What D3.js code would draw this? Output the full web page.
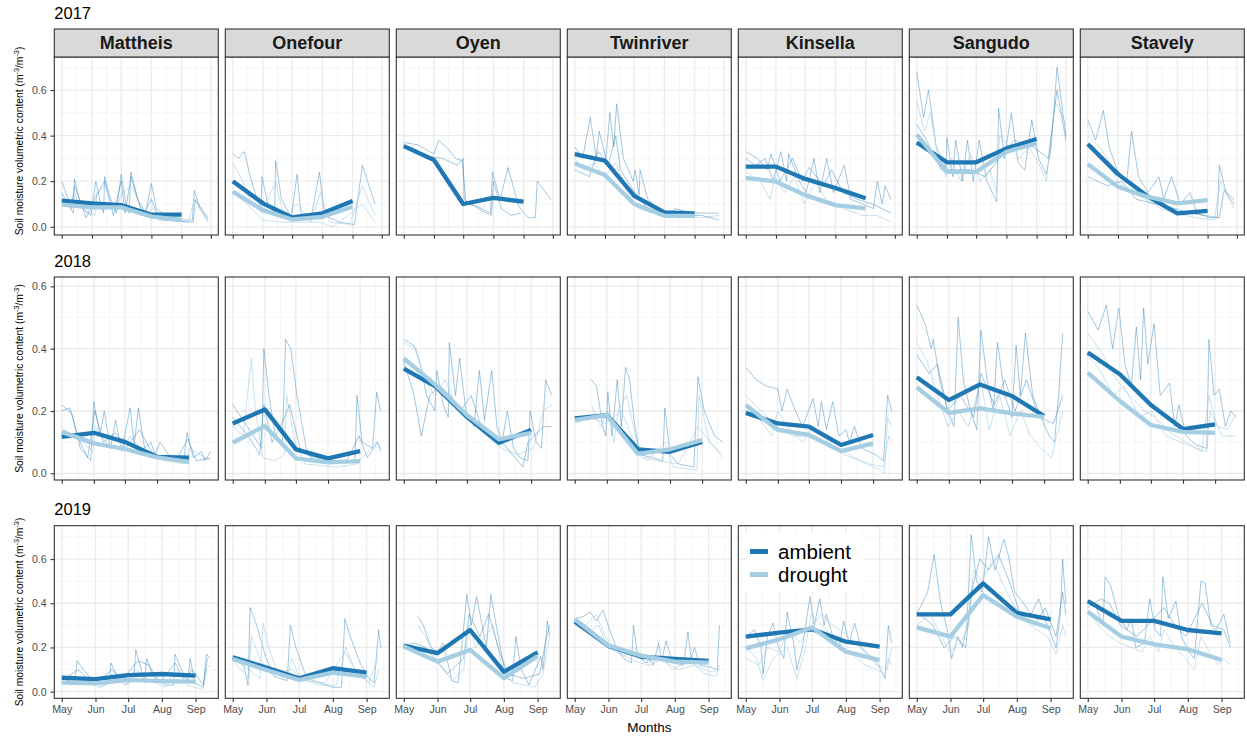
<!DOCTYPE html>
<html>
<head>
<meta charset="utf-8">
<script src="https://cdn.jsdelivr.net/npm/d3@7"></script>
<style>
  body { margin: 0; background: #ffffff; }
  text { font-family: "Liberation Sans", Arial, Helvetica, sans-serif; }
</style>
</head>
<body>
<svg id="chart" width="1247" height="738"></svg>
<script>
// ---------------- data ----------------
const years = [2017, 2018, 2019];
const sites = ["Mattheis", "Onefour", "Oyen", "Twinriver", "Kinsella", "Sangudo", "Stavely"];
const treatments = ["ambient", "drought"];
const meanMonths = ["May", "Jun", "Jul", "Aug", "Sep"];   // monthly means plotted on the 1st
const yMajor = [0, 0.2, 0.4, 0.6];
const yMinor = [0.1, 0.3, 0.5, 0.7];
const yLimits = [[-0.036, 0.745], [-0.0215, 0.63], [-0.03, 0.751]];

// monthly mean soil moisture, one row per site (May..Sep)
const ambient2017 = [
  [0.115, 0.103, 0.095, 0.053, 0.053],
  [0.200, 0.103, 0.041, 0.059, 0.113],
  [0.354, 0.293, 0.100, 0.127, 0.110],
  [0.319, 0.290, 0.136, 0.063, 0.059],
  [0.264, 0.264, 0.210, 0.170, 0.125],
  [0.370, 0.283, 0.283, 0.344, 0.385],
  [0.363, 0.231, 0.135, 0.059, 0.070]
];
const drought2017 = [
  [0.097, 0.085, 0.085, 0.045, 0.030],
  [0.154, 0.073, 0.032, 0.044, 0.088],
  null,
  [0.278, 0.227, 0.100, 0.048, 0.048],
  [0.215, 0.198, 0.139, 0.095, 0.081],
  [0.405, 0.241, 0.241, 0.329, 0.366],
  [0.275, 0.176, 0.132, 0.103, 0.117]
];
const ambient2018 = [
  [0.117, 0.130, 0.101, 0.053, 0.050],
  [0.160, 0.205, 0.077, 0.048, 0.071],
  [0.336, 0.278, 0.181, 0.098, 0.139],
  [0.176, 0.187, 0.077, 0.069, 0.101],
  [0.194, 0.160, 0.150, 0.091, 0.123],
  [0.308, 0.235, 0.285, 0.248, 0.184],
  [0.388, 0.318, 0.219, 0.142, 0.157]
];
const drought2018 = [
  [0.133, 0.096, 0.078, 0.051, 0.037],
  [0.098, 0.152, 0.048, 0.035, 0.039],
  [0.369, 0.283, 0.187, 0.109, 0.130],
  [0.171, 0.187, 0.062, 0.077, 0.107],
  [0.219, 0.139, 0.123, 0.071, 0.096],
  [0.276, 0.194, 0.208, 0.192, 0.181],
  [0.323, 0.232, 0.155, 0.133, 0.130]
];
const ambient2019 = [
  [0.063, 0.057, 0.075, 0.080, 0.073],
  [0.156, 0.109, 0.061, 0.106, 0.086],
  [0.208, 0.174, 0.279, 0.090, 0.178],
  [0.317, 0.207, 0.158, 0.148, 0.139],
  [0.249, 0.267, 0.282, 0.226, 0.204],
  [0.350, 0.350, 0.490, 0.357, 0.327],
  [0.410, 0.320, 0.320, 0.279, 0.264]
];
const drought2019 = [
  [0.041, 0.038, 0.053, 0.048, 0.045],
  [0.148, 0.098, 0.053, 0.086, 0.068],
  [0.204, 0.136, 0.189, 0.061, 0.161],
  [0.328, 0.209, 0.163, 0.136, 0.131],
  [0.196, 0.237, 0.290, 0.181, 0.143],
  [0.291, 0.249, 0.437, 0.339, 0.287],
  [0.362, 0.249, 0.214, 0.192, 0.143]
];

// individual sensor records: [site, treatment, [[days since 1 May, value], ...]]
const sensors2017 = [
  ["Mattheis", "ambient", [[0,0.15],[6,0.1],[12,0.06],[13,0.21],[18,0.12],[24,0.07],[30,0.05],[35,0.2],[40,0.1],[43,0.06],[44,0.22],[50,0.12],[56,0.06],[61,0.23],[66,0.1],[69,0.06],[71,0.24],[78,0.12],[86,0.06],[92,0.19],[97,0.08],[110,0.04],[125,0.03],[134,0.03],[136,0.16],[142,0.08],[150,0.03]]],
  ["Mattheis", "drought", [[0,0.12],[8,0.09],[13,0.15],[20,0.08],[34,0.05],[36,0.15],[45,0.18],[55,0.07],[62,0.15],[72,0.18],[85,0.05],[93,0.08],[110,0.03],[130,0.02],[136,0.12],[150,0.02]]],
  ["Mattheis", "ambient", [[0,0.2],[10,0.08],[13,0.18],[25,0.04],[36,0.14],[44,0.2],[53,0.05],[61,0.2],[65,0.06],[71,0.22],[83,0.05],[92,0.12],[100,0.03],[135,0.02],[137,0.12],[150,0.04]]],
  ["Onefour", "ambient", [[0,0.32],[6,0.3],[12,0.33],[18,0.22],[25,0.12],[29,0.08],[30,0.22],[36,0.1],[43,0.06],[44,0.29],[50,0.12],[60,0.04],[66,0.23],[70,0.06],[80,0.03],[89,0.24],[94,0.05],[110,0.02],[125,0.01],[133,0.27],[146,0.1]]],
  ["Onefour", "drought", [[0,0.28],[8,0.22],[20,0.1],[30,0.06],[44,0.2],[52,0.05],[66,0.1],[80,0.02],[90,0.15],[100,0.02],[120,0.01],[133,0.18],[146,0.05]]],
  ["Onefour", "drought", [[0,0.15],[15,0.1],[30,0.03],[50,0.02],[90,0.02],[103,0.0],[133,0.1],[146,0.02]]],
  ["Oyen", "ambient", [[0,0.37],[14,0.36],[31,0.32],[36,0.38],[46,0.34],[53,0.3],[60,0.29],[64,0.1],[75,0.09],[89,0.06],[91,0.24],[99,0.12],[107,0.26],[118,0.09],[128,0.04],[135,0.04],[137,0.2],[151,0.12]]],
  ["Oyen", "ambient", [[0,0.36],[12,0.34],[25,0.31],[40,0.3],[55,0.27],[61,0.3],[62,0.12],[80,0.07],[90,0.05],[92,0.2],[100,0.08],[110,0.05],[120,0.06]]],
  ["Twinriver", "ambient", [[0,0.35],[8,0.3],[16,0.48],[22,0.3],[25,0.42],[32,0.3],[36,0.5],[40,0.35],[43,0.54],[50,0.3],[60,0.2],[62,0.25],[66,0.14],[67,0.25],[75,0.12],[85,0.08],[100,0.06],[103,0.08],[120,0.06],[148,0.06]]],
  ["Twinriver", "drought", [[0,0.3],[10,0.25],[20,0.28],[30,0.22],[42,0.28],[55,0.14],[65,0.08],[80,0.06],[100,0.05],[130,0.04],[148,0.05]]],
  ["Twinriver", "ambient", [[0,0.25],[15,0.22],[24,0.33],[35,0.28],[42,0.4],[47,0.25],[60,0.16],[75,0.08],[100,0.05],[130,0.05],[148,0.03]]],
  ["Kinsella", "ambient", [[0,0.3],[10,0.27],[20,0.3],[28,0.2],[36,0.33],[42,0.2],[44,0.32],[55,0.2],[62,0.15],[70,0.3],[76,0.15],[83,0.3],[90,0.15],[101,0.27],[108,0.12],[120,0.1],[131,0.08],[135,0.2],[140,0.1],[143,0.18],[149,0.12]]],
  ["Kinsella", "drought", [[0,0.24],[15,0.2],[25,0.12],[30,0.22],[40,0.15],[50,0.22],[60,0.1],[72,0.2],[85,0.1],[100,0.08],[120,0.05],[135,0.05],[149,0.02]]],
  ["Kinsella", "ambient", [[0,0.33],[12,0.3],[22,0.25],[26,0.32],[35,0.2],[48,0.3],[58,0.2],[65,0.26],[80,0.18],[88,0.25],[100,0.15],[115,0.12],[130,0.1],[149,0.06]]],
  ["Sangudo", "ambient", [[0,0.68],[7,0.48],[12,0.6],[20,0.35],[30,0.26],[31,0.39],[37,0.22],[40,0.38],[47,0.2],[52,0.38],[58,0.2],[64,0.38],[72,0.2],[82,0.11],[84,0.52],[90,0.3],[97,0.5],[104,0.28],[111,0.25],[118,0.47],[125,0.3],[133,0.23],[138,0.35],[144,0.7],[153,0.4]]],
  ["Sangudo", "drought", [[0,0.55],[8,0.42],[14,0.5],[22,0.3],[30,0.22],[36,0.3],[45,0.2],[55,0.32],[65,0.2],[75,0.25],[82,0.15],[85,0.4],[95,0.35],[105,0.3],[115,0.35],[125,0.28],[133,0.2],[142,0.55],[153,0.45]]],
  ["Sangudo", "ambient", [[0,0.45],[10,0.38],[25,0.25],[40,0.25],[55,0.25],[70,0.22],[85,0.3],[100,0.38],[120,0.35],[135,0.3],[144,0.6],[153,0.38]]],
  ["Stavely", "ambient", [[0,0.47],[8,0.38],[16,0.51],[22,0.35],[30,0.25],[40,0.2],[45,0.42],[52,0.22],[62,0.15],[73,0.22],[78,0.12],[86,0.22],[95,0.1],[105,0.15],[112,0.06],[125,0.04],[133,0.04],[135,0.27],[142,0.15],[150,0.1]]],
  ["Stavely", "drought", [[0,0.4],[12,0.35],[20,0.3],[30,0.2],[45,0.15],[60,0.12],[75,0.08],[90,0.06],[110,0.04],[130,0.03],[136,0.2],[150,0.08]]],
  ["Stavely", "ambient", [[0,0.22],[20,0.18],[35,0.2],[50,0.12],[70,0.1],[90,0.08],[105,0.06],[120,0.05],[135,0.04],[140,0.16],[150,0.12]]]
];
const sensors2018 = [
  ["Mattheis", "ambient", [[0,0.22],[10,0.19],[18,0.08],[28,0.04],[31,0.23],[37,0.12],[41,0.2],[47,0.08],[52,0.17],[58,0.07],[66,0.21],[70,0.09],[74,0.21],[80,0.08],[86,0.1],[90,0.06],[95,0.1],[105,0.05],[118,0.04],[121,0.13],[127,0.05],[135,0.07],[138,0.04],[144,0.07]]],
  ["Mattheis", "drought", [[0,0.15],[10,0.12],[20,0.1],[30,0.07],[32,0.15],[45,0.09],[60,0.08],[66,0.12],[80,0.06],[100,0.04],[121,0.03],[123,0.08],[144,0.04]]],
  ["Mattheis", "ambient", [[0,0.2],[8,0.21],[15,0.12],[25,0.05],[32,0.2],[40,0.1],[52,0.13],[62,0.08],[75,0.14],[90,0.05],[110,0.04],[122,0.11],[130,0.04],[144,0.05]]],
  ["Onefour", "ambient", [[0,0.22],[10,0.17],[20,0.12],[28,0.08],[30,0.4],[35,0.25],[41,0.12],[48,0.1],[51,0.43],[56,0.4],[62,0.25],[72,0.06],[80,0.05],[100,0.04],[118,0.04],[120,0.25],[125,0.1],[135,0.08],[139,0.26],[143,0.2]]],
  ["Onefour", "drought", [[0,0.15],[10,0.12],[18,0.37],[22,0.2],[29,0.05],[40,0.04],[50,0.06],[52,0.25],[60,0.1],[70,0.03],[100,0.02],[120,0.03],[139,0.1],[143,0.08]]],
  ["Onefour", "ambient", [[0,0.18],[15,0.12],[26,0.06],[30,0.22],[38,0.1],[46,0.15],[55,0.22],[65,0.08],[80,0.04],[110,0.04],[122,0.12],[130,0.05],[140,0.1],[143,0.07]]],
  ["Oyen", "ambient", [[0,0.43],[10,0.41],[16,0.35],[22,0.25],[30,0.2],[32,0.33],[38,0.22],[43,0.18],[44,0.42],[50,0.25],[54,0.37],[60,0.2],[68,0.15],[73,0.33],[78,0.17],[85,0.33],[90,0.15],[95,0.1],[100,0.2],[106,0.08],[112,0.05],[120,0.04],[122,0.2],[128,0.1],[133,0.08],[137,0.3],[143,0.25]]],
  ["Oyen", "drought", [[0,0.42],[12,0.4],[20,0.3],[30,0.25],[40,0.3],[50,0.22],[60,0.18],[70,0.15],[80,0.12],[95,0.08],[110,0.06],[125,0.08],[135,0.2],[143,0.22]]],
  ["Oyen", "ambient", [[0,0.36],[10,0.25],[17,0.12],[25,0.25],[35,0.28],[45,0.25],[55,0.2],[65,0.25],[75,0.15],[85,0.12],[95,0.1],[105,0.06],[115,0.02],[120,0.1],[135,0.15],[143,0.15]]],
  ["Twinriver", "ambient", [[16,0.3],[21,0.28],[27,0.15],[30,0.12],[32,0.26],[36,0.12],[41,0.3],[45,0.15],[49,0.34],[53,0.3],[58,0.15],[63,0.06],[75,0.05],[85,0.04],[87,0.21],[92,0.06],[100,0.03],[115,0.02],[119,0.31],[125,0.2],[135,0.12],[143,0.1]]],
  ["Twinriver", "drought", [[16,0.22],[25,0.15],[32,0.2],[38,0.1],[42,0.2],[50,0.25],[60,0.1],[70,0.04],[87,0.1],[95,0.02],[118,0.01],[120,0.25],[130,0.1],[143,0.06]]],
  ["Twinriver", "drought", [[0,0.16],[15,0.18],[30,0.16],[45,0.2],[55,0.12],[65,0.05],[80,0.04],[100,0.03],[119,0.15],[143,0.05]]],
  ["Kinsella", "ambient", [[0,0.34],[10,0.3],[20,0.28],[31,0.27],[35,0.2],[40,0.27],[48,0.2],[55,0.15],[65,0.24],[70,0.15],[73,0.23],[78,0.14],[84,0.23],[90,0.12],[97,0.14],[100,0.1],[105,0.15],[112,0.08],[125,0.06],[133,0.04],[137,0.25],[141,0.2]]],
  ["Kinsella", "drought", [[0,0.2],[12,0.18],[25,0.12],[31,0.2],[40,0.15],[55,0.1],[65,0.15],[80,0.1],[95,0.06],[110,0.04],[130,0.01],[134,0.0],[137,0.18],[141,0.15]]],
  ["Kinsella", "drought", [[0,0.25],[15,0.2],[30,0.15],[45,0.12],[60,0.12],[75,0.1],[90,0.08],[105,0.05],[120,0.03],[133,0.02],[138,0.12],[141,0.1]]],
  ["Sangudo", "ambient", [[0,0.54],[8,0.48],[14,0.4],[16,0.43],[22,0.3],[30,0.2],[36,0.15],[40,0.5],[45,0.3],[52,0.2],[58,0.14],[62,0.46],[68,0.3],[74,0.2],[78,0.42],[85,0.25],[92,0.18],[96,0.41],[100,0.25],[105,0.45],[112,0.25],[120,0.18],[128,0.12],[133,0.1],[137,0.25],[141,0.45]]],
  ["Sangudo", "drought", [[0,0.42],[10,0.36],[20,0.25],[30,0.15],[40,0.2],[50,0.15],[62,0.3],[70,0.14],[80,0.25],[90,0.12],[100,0.2],[110,0.12],[120,0.08],[130,0.05],[141,0.2]]],
  ["Sangudo", "ambient", [[0,0.38],[12,0.32],[20,0.35],[30,0.2],[42,0.25],[55,0.18],[62,0.32],[75,0.22],[85,0.3],[95,0.2],[106,0.3],[118,0.18],[132,0.16],[141,0.25]]],
  ["Stavely", "ambient", [[0,0.52],[10,0.46],[18,0.54],[24,0.4],[30,0.53],[36,0.35],[42,0.28],[47,0.47],[51,0.3],[54,0.53],[58,0.35],[64,0.48],[70,0.25],[79,0.29],[84,0.15],[88,0.22],[95,0.12],[105,0.09],[115,0.08],[117,0.43],[122,0.25],[127,0.27],[133,0.15],[138,0.2],[143,0.18]]],
  ["Stavely", "drought", [[0,0.45],[15,0.38],[28,0.3],[40,0.25],[55,0.2],[65,0.18],[80,0.13],[95,0.1],[110,0.07],[117,0.25],[125,0.15],[135,0.14],[143,0.19]]],
  ["Stavely", "drought", [[0,0.38],[12,0.33],[25,0.25],[35,0.28],[50,0.18],[62,0.2],[75,0.12],[90,0.1],[105,0.08],[115,0.07],[118,0.2],[130,0.12],[143,0.12]]]
];
const sensors2019 = [
  ["Mattheis", "ambient", [[0,0.06],[12,0.04],[14,0.14],[20,0.1],[28,0.05],[35,0.02],[44,0.04],[45,0.13],[52,0.06],[58,0.03],[66,0.05],[68,0.19],[72,0.12],[76,0.04],[78,0.15],[84,0.07],[95,0.03],[103,0.03],[104,0.17],[110,0.1],[116,0.05],[118,0.15],[122,0.04],[130,0.02],[133,0.17],[136,0.15]]],
  ["Mattheis", "drought", [[0,0.04],[14,0.05],[25,0.04],[40,0.03],[45,0.08],[60,0.04],[68,0.1],[80,0.05],[95,0.02],[105,0.1],[115,0.03],[130,0.01],[133,0.1],[136,0.12]]],
  ["Mattheis", "ambient", [[0,0.05],[15,0.1],[30,0.03],[46,0.1],[55,0.05],[70,0.14],[80,0.12],[90,0.04],[104,0.13],[112,0.06],[120,0.1],[130,0.03],[134,0.15]]],
  ["Onefour", "ambient", [[0,0.16],[10,0.12],[14,0.03],[16,0.38],[22,0.3],[30,0.16],[38,0.07],[50,0.05],[53,0.3],[58,0.2],[68,0.06],[80,0.04],[92,0.02],[100,0.02],[103,0.33],[108,0.25],[117,0.13],[125,0.06],[130,0.04],[134,0.28],[136,0.2]]],
  ["Onefour", "drought", [[0,0.15],[15,0.1],[25,0.06],[28,0.31],[33,0.2],[40,0.1],[50,0.06],[54,0.15],[62,0.06],[80,0.03],[95,0.03],[104,0.2],[112,0.1],[125,0.04],[134,0.16]]],
  ["Onefour", "drought", [[0,0.14],[15,0.06],[17,0.25],[25,0.15],[35,0.08],[55,0.1],[65,0.05],[85,0.04],[103,0.18],[115,0.08],[130,0.02],[134,0.1]]],
  ["Oyen", "ambient", [[13,0.34],[18,0.3],[25,0.2],[31,0.18],[36,0.22],[42,0.1],[44,0.05],[50,0.04],[58,0.44],[62,0.3],[67,0.43],[72,0.3],[76,0.2],[80,0.44],[85,0.3],[94,0.06],[100,0.05],[103,0.25],[108,0.1],[115,0.03],[126,0.16],[128,0.1],[132,0.32],[134,0.25]]],
  ["Oyen", "drought", [[13,0.3],[20,0.25],[30,0.15],[40,0.08],[45,0.05],[55,0.1],[60,0.3],[66,0.2],[75,0.25],[82,0.3],[90,0.12],[100,0.04],[110,0.03],[120,0.02],[128,0.08],[132,0.2],[134,0.25]]],
  ["Oyen", "ambient", [[0,0.21],[10,0.22],[20,0.2],[30,0.14],[40,0.08],[55,0.15],[60,0.35],[70,0.25],[78,0.35],[88,0.18],[96,0.08],[110,0.06],[125,0.08],[130,0.22],[134,0.3]]],
  ["Twinriver", "ambient", [[0,0.33],[8,0.34],[14,0.36],[20,0.32],[26,0.37],[32,0.28],[39,0.19],[45,0.15],[52,0.13],[54,0.3],[58,0.16],[66,0.13],[68,0.15],[72,0.12],[77,0.22],[80,0.14],[84,0.23],[90,0.13],[100,0.12],[104,0.27],[107,0.15],[110,0.2],[115,0.12],[125,0.11],[131,0.1],[133,0.3]]],
  ["Twinriver", "drought", [[0,0.33],[10,0.3],[20,0.35],[28,0.25],[40,0.18],[50,0.15],[60,0.13],[70,0.12],[80,0.15],[90,0.1],[105,0.14],[120,0.08],[130,0.07],[133,0.12]]],
  ["Twinriver", "drought", [[0,0.3],[12,0.27],[22,0.3],[30,0.2],[45,0.16],[55,0.2],[65,0.13],[78,0.15],[95,0.1],[110,0.12],[125,0.09],[133,0.1]]],
  ["Kinsella", "ambient", [[0,0.25],[8,0.28],[14,0.2],[16,0.08],[20,0.25],[25,0.31],[30,0.2],[35,0.15],[38,0.36],[44,0.22],[47,0.1],[52,0.2],[59,0.43],[63,0.3],[68,0.42],[72,0.3],[74,0.35],[80,0.25],[86,0.2],[90,0.32],[95,0.22],[100,0.31],[106,0.2],[115,0.16],[122,0.12],[128,0.06],[131,0.3],[134,0.22]]],
  ["Kinsella", "drought", [[0,0.2],[10,0.15],[16,0.05],[25,0.15],[38,0.2],[47,0.06],[55,0.2],[60,0.35],[70,0.3],[80,0.25],[90,0.2],[100,0.16],[110,0.12],[120,0.1],[128,0.08],[131,0.15],[134,0.12]]],
  ["Kinsella", "drought", [[0,0.15],[12,0.12],[20,0.2],[30,0.18],[40,0.28],[50,0.22],[60,0.3],[70,0.35],[80,0.3],[95,0.25],[105,0.2],[120,0.12],[130,0.1],[134,0.2]]],
  ["Sangudo", "ambient", [[0,0.35],[10,0.45],[16,0.62],[22,0.4],[28,0.28],[32,0.15],[38,0.25],[42,0.2],[46,0.3],[50,0.71],[55,0.5],[60,0.45],[66,0.7],[72,0.55],[80,0.69],[84,0.62],[90,0.45],[98,0.4],[105,0.35],[112,0.42],[120,0.3],[128,0.2],[132,0.35],[134,0.6],[137,0.4]]],
  ["Sangudo", "drought", [[0,0.3],[12,0.35],[20,0.28],[30,0.18],[40,0.22],[48,0.3],[52,0.55],[60,0.5],[70,0.6],[78,0.5],[88,0.4],[100,0.32],[110,0.28],[120,0.25],[128,0.17],[134,0.3],[137,0.25]]],
  ["Sangudo", "ambient", [[0,0.36],[15,0.3],[25,0.2],[35,0.25],[45,0.2],[50,0.45],[58,0.6],[66,0.55],[75,0.62],[85,0.5],[95,0.35],[108,0.3],[118,0.38],[128,0.25],[134,0.45],[137,0.35]]],
  ["Stavely", "ambient", [[0,0.41],[8,0.38],[14,0.3],[16,0.52],[21,0.48],[28,0.35],[36,0.28],[40,0.33],[44,0.2],[52,0.22],[57,0.42],[62,0.28],[67,0.25],[69,0.52],[74,0.33],[81,0.41],[86,0.25],[93,0.18],[98,0.15],[104,0.5],[108,0.49],[113,0.3],[118,0.28],[125,0.35],[131,0.22]]],
  ["Stavely", "drought", [[0,0.36],[10,0.3],[20,0.25],[30,0.22],[40,0.2],[50,0.18],[57,0.25],[65,0.18],[70,0.28],[80,0.2],[90,0.15],[98,0.1],[104,0.25],[112,0.18],[120,0.12],[125,0.15],[131,0.12]]],
  ["Stavely", "ambient", [[0,0.38],[12,0.42],[20,0.4],[30,0.3],[45,0.25],[55,0.3],[70,0.38],[80,0.3],[90,0.25],[105,0.4],[115,0.3],[125,0.28],[131,0.2]]]
];

const ambientByYear = [ambient2017, ambient2018, ambient2019];
const droughtByYear = [drought2017, drought2018, drought2019];
const sensorsByYear = [sensors2017, sensors2018, sensors2019];

// ---------------- layout & style ----------------
const svg = d3.select("#chart");
const panelLeft0 = 54.3, panelW = 164, panelStep = 171;
const rows = [
  { titleY: 19,  stripTop: 29,   top: 57,    bottom: 235 },
  { titleY: 267, stripTop: null, top: 277,   bottom: 480 },
  { titleY: 515, stripTop: null, top: 525.7, bottom: 698.3 }
];
const color = { ambient: "#1F78B4", drought: "#A6CEE3" };
const thinOpacity = { ambient: 0.55, drought: 0.8 };
const gridMajor = "#EBEBEB", gridMinor = "#F2F2F2", frame = "#333333", tickText = "#4D4D4D";
const tickLen = 3.7, labelSize = 10.6;

const DAY = 864e5;
const seasonDate = (year, d) => new Date(new Date(year, 4, 1).getTime() + d * DAY);

svg.append("rect").attr("width", 1247).attr("height", 738).attr("fill", "#fff");

years.forEach((year, r) => {
  const L = rows[r];
  const ph = L.bottom - L.top;
  const sensors = sensorsByYear[r];

  // x range: data extent expanded by 5% on each side
  const dMin = d3.min(sensors, s => d3.min(s[2], p => p[0]));
  const dMax = d3.max(sensors, s => d3.max(s[2], p => p[0]));
  const pad = 0.05 * (dMax - dMin);
  const x = d3.scaleTime()
    .domain([seasonDate(year, dMin - pad), seasonDate(year, dMax + pad)])
    .range([0, panelW]);
  const y = d3.scaleLinear().domain(yLimits[r]).range([ph, 0]);

  const [x0, x1] = x.domain();
  const majorX = d3.timeMonth.range(d3.timeMonth.ceil(x0), x1);
  const minorX = [];
  for (let i = -1; i < majorX.length; i++) {
    const a = i < 0 ? d3.timeMonth.offset(majorX[0], -1) : majorX[i];
    const b = i + 1 < majorX.length ? majorX[i + 1] : d3.timeMonth.offset(majorX[i], 1);
    const mid = new Date((a.getTime() + b.getTime()) / 2);
    if (mid > x0 && mid < x1) minorX.push(mid);
  }
  const yd = y.domain();
  const majY = yMajor.filter(v => v >= yd[0] && v <= yd[1]);
  const minY = yMinor.filter(v => v >= yd[0] && v <= yd[1]);

  // year title
  svg.append("text")
    .attr("x", panelLeft0).attr("y", L.titleY)
    .attr("font-size", 16.5).attr("fill", "#000")
    .text(year);

  // y axis title
  svg.append("text")
    .attr("transform", `translate(23,${r === 0 ? 141 : (L.top + L.bottom) / 2}) rotate(-90)`)
    .attr("text-anchor", "middle")
    .attr("font-size", 10.3).attr("fill", "#000")
    .call(t => {
      t.append("tspan").text("Soil moisture volumetric content  (m");
      t.append("tspan").attr("font-size", 7.3).attr("dy", -4).text("-3");
      t.append("tspan").attr("dy", 4).text("/m");
      t.append("tspan").attr("font-size", 7.3).attr("dy", -4).text("-3");
      t.append("tspan").attr("dy", 4).text(")");
    });

  const line = d3.line()
    .x(p => x(seasonDate(year, p[0])))
    .y(p => y(p[1]));
  const meanLine = d3.line()
    .x((v, i) => x(new Date(year, 4 + i, 1)))
    .y(v => y(v));

  sites.forEach((site, c) => {
    const g = svg.append("g")
      .attr("transform", `translate(${panelLeft0 + c * panelStep},${L.top})`);

    g.append("rect").attr("width", panelW).attr("height", ph).attr("fill", "#fff");

    // grid
    const grid = g.append("g");
    grid.selectAll(".vminor").data(minorX).join("line")
      .attr("x1", d => x(d)).attr("x2", d => x(d)).attr("y1", 0).attr("y2", ph)
      .attr("stroke", gridMinor).attr("stroke-width", 0.7);
    grid.selectAll(".hminor").data(minY).join("line")
      .attr("x1", 0).attr("x2", panelW).attr("y1", d => y(d)).attr("y2", d => y(d))
      .attr("stroke", gridMinor).attr("stroke-width", 0.7);
    grid.selectAll(".vmajor").data(majorX).join("line")
      .attr("x1", d => x(d)).attr("x2", d => x(d)).attr("y1", 0).attr("y2", ph)
      .attr("stroke", gridMajor).attr("stroke-width", 1.3);
    grid.selectAll(".hmajor").data(majY).join("line")
      .attr("x1", 0).attr("x2", panelW).attr("y1", d => y(d)).attr("y2", d => y(d))
      .attr("stroke", gridMajor).attr("stroke-width", 1.3);

    // individual sensors
    g.append("g").selectAll("path")
      .data(sensors.filter(s => s[0] === site))
      .join("path")
      .attr("d", s => line(s[2]))
      .attr("fill", "none")
      .attr("stroke", s => color[s[1]])
      .attr("stroke-opacity", s => thinOpacity[s[1]])
      .attr("stroke-width", 0.75)
      .attr("stroke-linejoin", "round");

    // monthly treatment means
    treatments.forEach(tr => {
      const vals = (tr === "ambient" ? ambientByYear[r] : droughtByYear[r])[c];
      if (!vals) return;
      g.append("path")
        .attr("d", meanLine(vals))
        .attr("fill", "none")
        .attr("stroke", color[tr])
        .attr("stroke-width", 4.3)
        .attr("stroke-linejoin", "round");
    });

    // frame
    g.append("rect").attr("width", panelW).attr("height", ph)
      .attr("fill", "none").attr("stroke", frame).attr("stroke-width", 1.1);

    // x axis
    const xa = g.append("g").attr("transform", `translate(0,${ph})`)
      .call(d3.axisBottom(x).tickValues(majorX).tickSize(tickLen).tickPadding(3.3)
        .tickFormat(r === years.length - 1 ? d3.timeFormat("%b") : () => ""));
    xa.select(".domain").remove();
    xa.selectAll("line").attr("stroke", frame).attr("stroke-width", 1.1);
    xa.selectAll("text").attr("font-size", labelSize).attr("fill", tickText)
      .attr("font-family", '"Liberation Sans", Arial, sans-serif');

    // y axis on first column
    if (c === 0) {
      const ya = g.append("g")
        .call(d3.axisLeft(y).tickValues(majY).tickSize(tickLen).tickPadding(4)
          .tickFormat(d3.format(".1f")));
      ya.select(".domain").remove();
      ya.selectAll("line").attr("stroke", frame).attr("stroke-width", 1.1);
      ya.selectAll("text").attr("font-size", labelSize).attr("fill", tickText)
        .attr("font-family", '"Liberation Sans", Arial, sans-serif');
    }

    // facet strip
    if (L.stripTop !== null) {
      svg.append("rect")
        .attr("x", panelLeft0 + c * panelStep).attr("y", L.stripTop)
        .attr("width", panelW).attr("height", L.top - L.stripTop)
        .attr("fill", "#D9D9D9").attr("stroke", frame).attr("stroke-width", 1.1);
      svg.append("text")
        .attr("x", panelLeft0 + c * panelStep + panelW / 2)
        .attr("y", L.stripTop + (L.top - L.stripTop) / 2 + 6.3)
        .attr("text-anchor", "middle")
        .attr("font-size", 18).attr("font-weight", "bold").attr("fill", "#1A1A1A")
        .text(site);
    }

    // legend inside the 2019 Kinsella panel
    if (r === 2 && site === "Kinsella") {
      const lg = svg.append("g");
      lg.append("rect").attr("x", 745).attr("y", 533).attr("width", 120).attr("height", 59)
        .attr("fill", "#fff");
      treatments.forEach((tr, i) => {
        const cy = 551.5 + i * 23;
        lg.append("line").attr("x1", 750).attr("x2", 768).attr("y1", cy).attr("y2", cy)
          .attr("stroke", color[tr]).attr("stroke-width", 5);
        lg.append("text").attr("x", 778).attr("y", cy + 7)
          .attr("font-size", 20.5).attr("fill", "#000").text(tr);
      });
    }
  });
});

// shared x axis title
svg.append("text")
  .attr("x", panelLeft0 + (6 * panelStep + panelW) / 2).attr("y", 732)
  .attr("text-anchor", "middle").attr("font-size", 13.5).attr("fill", "#000")
  .text("Months");
</script>
</body>
</html>
